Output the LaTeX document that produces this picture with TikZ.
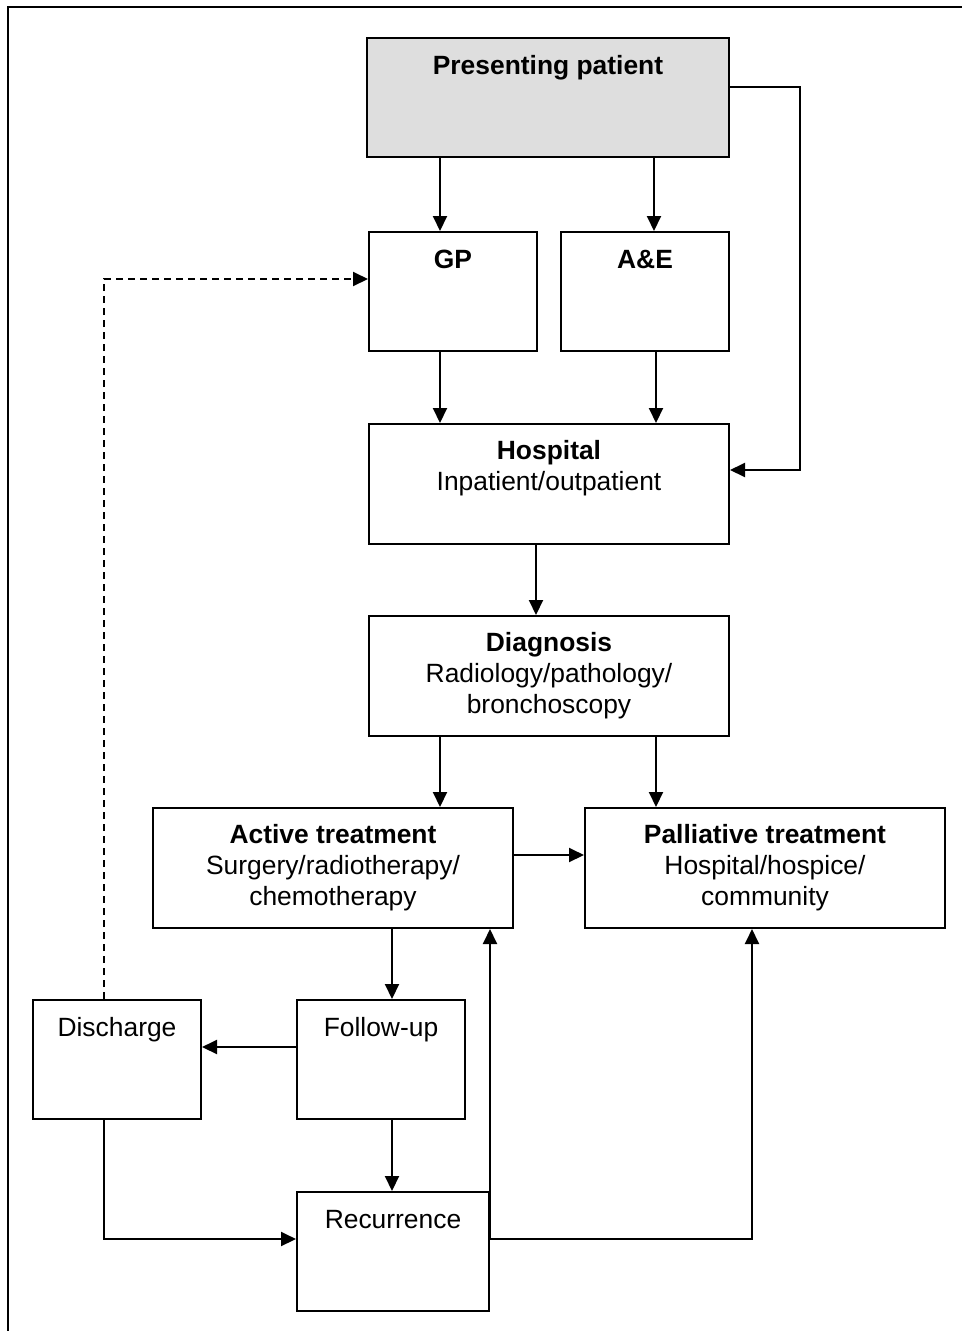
\documentclass[tikz,border=0pt]{standalone}
\usepackage{fontspec}
\setmainfont{Liberation Sans}
\usetikzlibrary{arrows.meta}

\begin{document}
\begin{tikzpicture}[x=1pt, y=-1pt,
      box/.style={draw, line width=2pt, anchor=north west, inner sep=0pt, minimum height=119pt},
      lbl/.style={anchor=base, align=center, inner sep=0pt, font=\fontsize{26.4}{31}\selectfont},
      arr/.style={line width=2pt, -{Triangle[length=15pt,width=14pt]}}]
    \useasboundingbox (0,0) rectangle (962,1331);
    % frame
    \draw[line width=2.4pt] (8,1331) -- (8,7) -- (962,7);
    % boxes
    \node[box, fill=black!13, minimum width=362pt] (pp) at (366,37) {};
    \node[box, minimum width=168pt] (gp) at (368,231) {};
    \node[box, minimum width=168pt] (ae) at (560,231) {};
    \node[box, minimum width=360pt, minimum height=120pt] (hosp) at (368,423) {};
    \node[box, minimum width=360pt, minimum height=120pt] (diag) at (368,615) {};
    \node[box, minimum width=360pt, minimum height=120pt] (act) at (152,807) {};
    \node[box, minimum width=360pt, minimum height=120pt] (pal) at (584,807) {};
    \node[box, minimum width=168pt] (dis) at (32,999) {};
    \node[box, minimum width=168pt] (fol) at (296,999) {};
    \node[box, minimum width=192pt] (rec) at (296,1191) {};
    % texts (base = last line)
    \node[lbl] (pp-t) at ([yshift=-37pt]pp.north) {\textbf{Presenting patient}};
    \node[lbl] (gp-t) at ([yshift=-37pt]gp.north) {\textbf{GP}};
    \node[lbl] (ae-t) at ([yshift=-37pt]ae.north) {\textbf{A\&E}};
    \node[lbl] (hosp-t) at ([yshift=-67pt]hosp.north) {\textbf{Hospital}\\Inpatient/outpatient};
    \node[lbl] (diag-t) at ([yshift=-98pt]diag.north) {\textbf{Diagnosis}\\Radiology/pathology/\\bronchoscopy};
    \node[lbl] (act-t) at ([yshift=-98pt]act.north) {\textbf{Active treatment}\\Surgery/radiotherapy/\\chemotherapy};
    \node[lbl] (pal-t) at ([yshift=-98pt]pal.north) {\textbf{Palliative treatment}\\Hospital/hospice/\\community};
    \node[lbl] (dis-t) at ([yshift=-37pt]dis.north) {Discharge};
    \node[lbl] (fol-t) at ([yshift=-37pt]fol.north) {Follow-up};
    \node[lbl] (rec-t) at ([yshift=-37pt]rec.north) {Recurrence};
    % connectors
    \coordinate (rt) at (800,87);
    \draw[arr] ([xshift=72pt]gp.north west |- pp.south) -- ([xshift=72pt]gp.north west);
    \draw[arr] ([xshift=94pt]ae.north west |- pp.south) -- ([xshift=94pt]ae.north west);
    \draw[arr] (pp.east |- rt) -- (rt) |- ([yshift=-47pt]hosp.north east);
    \draw[arr] ([xshift=72pt]gp.south west) -- ([xshift=72pt]gp.south west |- hosp.north);
    \draw[arr] ([xshift=96pt]ae.south west) -- ([xshift=96pt]ae.south west |- hosp.north);
    \draw[arr] ([xshift=168pt]hosp.south west) -- ([xshift=168pt]hosp.south west |- diag.north);
    \draw[arr] ([xshift=72pt]diag.south west) -- ([xshift=72pt]diag.south west |- act.north);
    \draw[arr] ([xshift=288pt]diag.south west) -- ([xshift=288pt]diag.south west |- pal.north);
    \draw[arr] ([yshift=-48pt]act.north east) -- ([yshift=-48pt]pal.north west);
    \draw[arr] ([xshift=96pt]fol.north west |- act.south) -- ([xshift=96pt]fol.north west);
    \draw[arr] ([yshift=-48pt]fol.north west) -- ([yshift=-48pt]dis.north east);
    \draw[arr] ([xshift=96pt]fol.south west) -- ([xshift=96pt]fol.south west |- rec.north);
    \draw[arr] ([xshift=72pt]dis.south west) |- ([yshift=-48pt]rec.north west);
    \draw[arr] ([yshift=-48pt]rec.north east) -- (rec.east |- act.south);
    \draw[arr] ([yshift=-48pt]rec.north east) -| ([xshift=168pt]pal.south west);
    \draw[arr, dashed, dash pattern=on 7pt off 5pt] ([xshift=72pt]dis.north west) |- ([yshift=-48pt]gp.north west);
\end{tikzpicture}
\end{document}
